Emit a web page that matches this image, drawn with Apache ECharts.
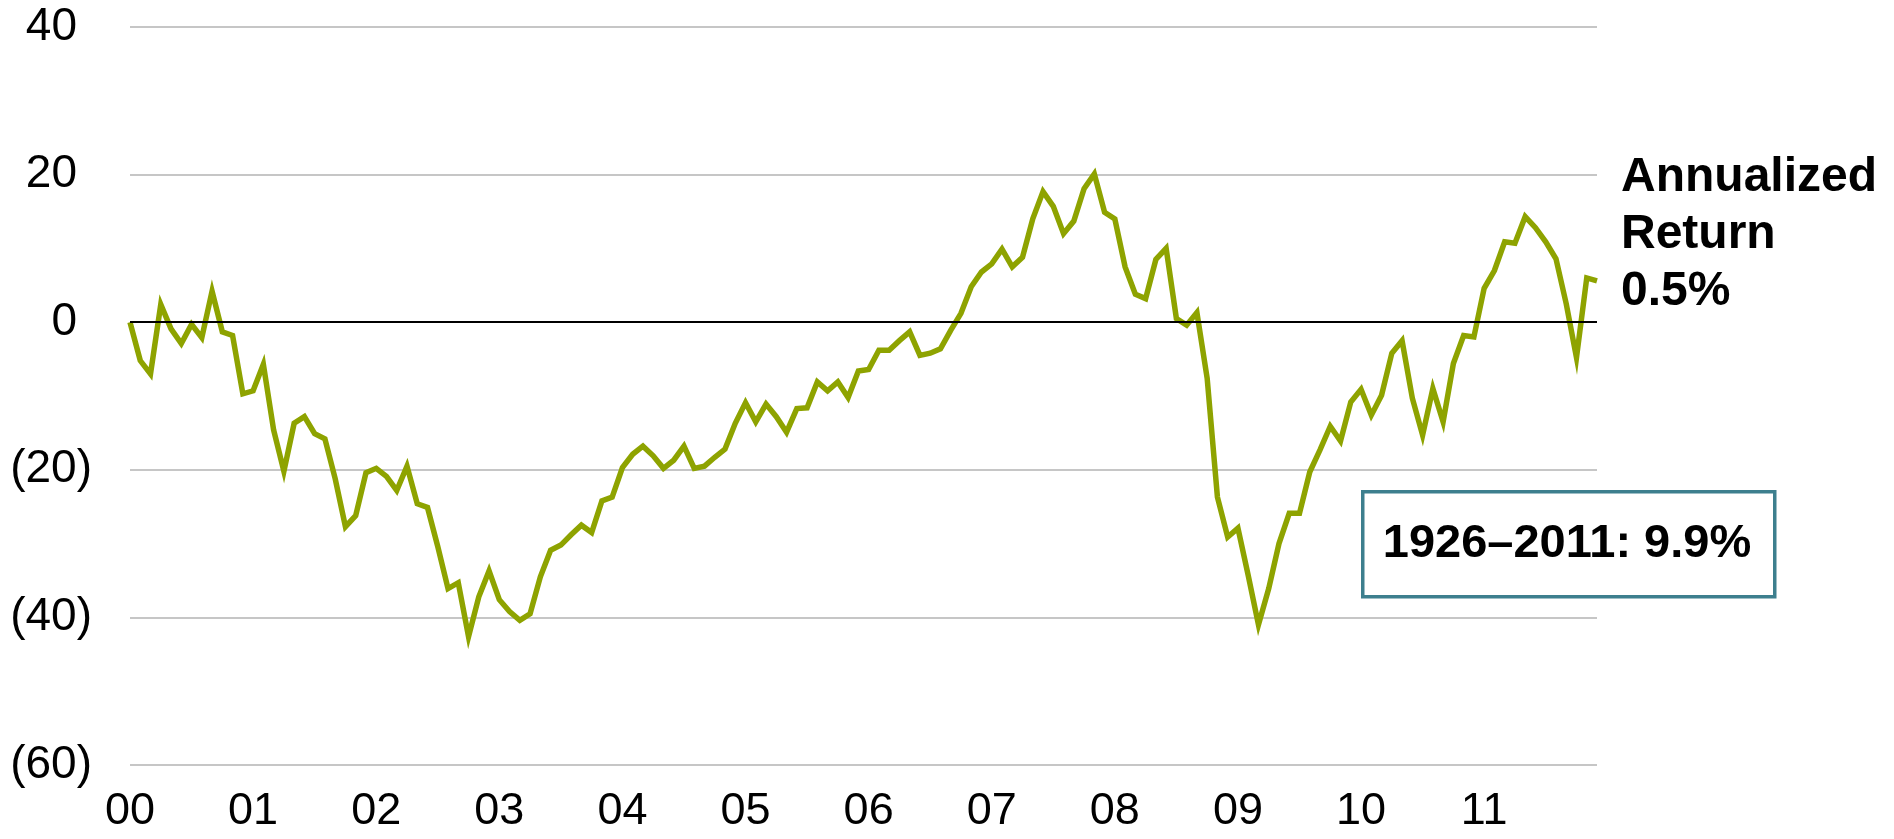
<!DOCTYPE html>
<html>
<head>
<meta charset="utf-8">
<script src="https://cdn.jsdelivr.net/npm/echarts@6/dist/echarts.min.js"></script>
<style>
html,body{margin:0;padding:0;background:#fff;}
#main{width:1894px;height:839px;}
</style>
</head>
<body>
<div id="main"></div>
<script>
// years shown on the axis (one tick label per January)
var years = ['2000','2001','2002','2003','2004','2005','2006','2007','2008','2009','2010','2011'];
var monthNums = ['01','02','03','04','05','06','07','08','09','10','11','12'];
var yTicks = [-60, -40, -20, 0, 20, 40];

// cumulative return, monthly
var cumReturn = [
  0, -5.2, -7.0, 2.4, -0.9, -2.9, -0.3, -2.1, 4.2, -1.3, -1.8, -9.7,
  -9.3, -5.7, -14.6, -20.2, -13.7, -12.8, -15.1, -15.8, -21.2, -27.7, -26.2, -20.4,
  -19.8, -20.9, -22.8, -19.5, -24.6, -25.1, -30.4, -36.1, -35.3, -42.6, -37.2, -33.7,
  -37.6, -39.2, -40.4, -39.5, -34.5, -30.9, -30.2, -28.8, -27.5, -28.5, -24.2, -23.7,
  -19.7, -17.9, -16.8, -18.1, -19.8, -18.7, -16.8, -19.8, -19.5, -18.3, -17.2, -13.7,
  -10.9, -13.5, -11.1, -12.8, -14.9, -11.7, -11.6, -8.1, -9.3, -8.1, -10.2, -6.6,
  -6.4, -3.8, -3.8, -2.5, -1.3, -4.5, -4.2, -3.6, -1.1, 1.2, 4.8, 6.8,
  7.9, 9.9, 7.5, 8.8, 14.0, 17.7, 15.7, 12.0, 13.7, 18.1, 20.1, 14.9,
  14.0, 7.5, 3.8, 3.2, 8.5, 10.0, 0.5, -0.4, 1.3, -7.6, -23.7, -29.1,
  -27.9, -34.3, -41.0, -36.1, -30.0, -25.9, -25.9, -20.3, -17.3, -14.1, -16.1, -10.8,
  -9.1, -12.6, -9.9, -4.2, -2.5, -10.3, -15.3, -9.0, -13.5, -5.6, -1.8, -2.0,
  4.6, 7.0, 10.9, 10.7, 14.3, 12.8, 10.9, 8.6, 2.5, -4.8, 6.0, 5.6
];

var categories = [];
years.forEach(function(y){
  monthNums.forEach(function(m){ categories.push(y + '-' + m); });
});

var FONT = '"Liberation Sans", Arial, sans-serif';
var chart = echarts.init(document.getElementById('main'));

var option = {
  backgroundColor: '#fff',
  animation: false,
  grid: { left: 130, right: 297, top: 27, bottom: 74, containLabel: false },
  xAxis: {
    type: 'category',
    data: categories,
    boundaryGap: false,
    axisLine: { show: false },
    axisTick: { show: false },
    splitLine: { show: false },
    axisLabel: {
      interval: function(idx){ return idx % 12 === 0; },
      formatter: function(v){ return v.slice(2, 4); },
      margin: 24,
      fontFamily: FONT,
      fontSize: 45,
      color: '#000'
    }
  },
  yAxis: {
    type: 'value',
    min: yTicks[0],
    max: yTicks[yTicks.length - 1],
    interval: 20,
    axisLine: { show: false },
    axisTick: { show: false },
    splitLine: { lineStyle: { color: '#c6c6c6', width: 2 } },
    axisLabel: {
      margin: 38,
      fontFamily: FONT,
      fontSize: 46,
      color: '#000',
      formatter: function(v){
        if (v < 0) return '{n|(' + Math.abs(v) + ')}';
        return '{p|' + v + '}';
      },
      rich: {
        n: { fontFamily: FONT, fontSize: 46, color: '#000' },
        p: { fontFamily: FONT, fontSize: 46, color: '#000', padding: [0, 15, 0, 0] }
      }
    }
  },
  series: [
    {
      type: 'line',
      data: [],
      z: 1,
      silent: true,
      markLine: {
        silent: true,
        symbol: 'none',
        label: { show: false },
        lineStyle: { color: '#000', width: 2, type: 'solid' },
        data: [{ yAxis: 0 }]
      }
    },
    {
      name: 'Cumulative Return',
      type: 'line',
      data: cumReturn,
      z: 3,
      symbol: 'none',
      lineStyle: { color: '#8ea300', width: 5.5, join: 'miter' },
      itemStyle: { color: '#8ea300' }
    }
  ],
  graphic: [
    {
      type: 'text',
      left: 1621,
      top: 149,
      style: {
        text: 'Annualized\nReturn\n0.5%',
        font: 'bold 48px ' + FONT,
        lineHeight: 57,
        fill: '#000'
      }
    },
    {
      type: 'rect',
      left: 1361,
      top: 490,
      shape: { width: 412, height: 105 },
      style: { fill: '#fff', stroke: '#3d7f8e', lineWidth: 3.5 }
    },
    {
      type: 'text',
      x: 1567,
      y: 544,
      style: {
        text: '1926\u20132011: 9.9%',
        font: 'bold 47px ' + FONT,
        fill: '#000',
        align: 'center',
        verticalAlign: 'middle'
      }
    }
  ]
};

chart.setOption(option);
</script>
</body>
</html>
